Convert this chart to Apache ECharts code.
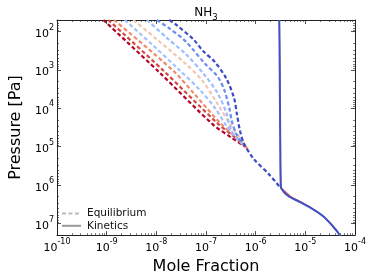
<!DOCTYPE html>
<html><head><meta charset="utf-8">
<script src="https://cdn.jsdelivr.net/npm/echarts@6/dist/echarts.min.js"></script>
<style>html,body{margin:0;padding:0;background:#fff}#c{width:374px;height:280px}</style>
</head><body><div id="c"></div>
<script>
// ---- data: [mole fraction, pressure (Pa)] ----
const eqA = [[8.6e-10,50],[1.11e-8,1105],[1.37e-7,2.61e4],[3.36e-7,5.94e4],[6.29e-7,1.01e5]];
const eqB = [[1.08e-9,50],[1.39e-8,1043],[1.71e-7,2.46e4],[4.02e-7,5.94e4],[6.58e-7,1.07e5]];
const eqC = [[1.41e-9,50],[2.18e-8,1043],[6.11e-8,4510],[1.87e-7,2.32e4],[4.6e-7,6.67e4],[6.88e-7,1.13e5]];
const eqD = [[2.31e-9,50],[8.1e-9,214],[2.72e-8,927],[7.64e-8,3365],[1.5e-7,9660],[2.56e-7,2.77e4],[4.81e-7,7.5e4]];
const eqE = [[3.46e-9,50],[1.02e-8,160],[3.9e-8,692],[8.36e-8,1870],[1.71e-7,7640],[3.36e-7,3.12e4],[5.75e-7,7.96e4]];
const eqH = [[6.49e-9,50],[1.59e-8,142],[3.9e-8,385],[9.57e-8,1397],[1.71e-7,4010],[2.56e-7,1.29e4],[3.21e-7,3.72e4],[5.26e-7,8.44e4]];
const eqG = [[1.02e-8,50],[1.74e-8,79],[3.9e-8,180],[9.57e-8,692],[1.71e-7,1480],[2.34e-7,3365],[2.94e-7,9660],[3.36e-7,2.32e4],[4.21e-7,4.98e4],[5.75e-7,8.95e4]];
const eqF = [[1.82e-8,50],[2.49e-8,66],[5.58e-8,160],[8.75e-8,323],[1.5e-7,615],[2.56e-7,1663],[3.67e-7,5375],[4.21e-7,1.46e4],[4.81e-7,3.72e4],[5.75e-7,7.96e4],[9.02e-7,2.03e5],[1.93e-6,5.5e5],[3.16e-6,1.18e6]];
const kinRed = [[3.0e-6,50],[3.08e-6,1e3],[3.15e-6,5.6e4],[3.26e-6,1.1e6],[3.95e-6,1.49e6],[5.15e-6,2.0e6],[7.9e-6,2.67e6],[1.38e-5,4.03e6],[2.3e-5,6.44e6],[3.41e-5,1.09e7],[4.89e-5,1.96e7],[5.3e-5,2.6e7]];
const kinBlue = [[2.99e-6,50],[3.05e-6,1e3],[3.12e-6,5.6e4],[3.21e-6,1.13e6],[3.65e-6,1.49e6],[4.74e-6,2.0e6],[7.42e-6,2.67e6],[1.33e-5,4.03e6],[2.28e-5,6.44e6],[3.41e-5,1.09e7],[4.89e-5,1.96e7],[5.3e-5,2.6e7]];

const eqSeriesData = [eqA, eqB, eqC, eqE, eqD, eqH, eqG, eqF];
const eqColors = ['#b40426','#d24b40','#f08b6e','#f3c7b1','#a2c1ff','#9dbdff','#6b8df0','#3b4cc0'];
const eqNames = ['eqA','eqB','eqC','eqE','eqD','eqH','eqG','eqF'];
const kinColors = ['#d0473d','#3f51c4'];
const legendNames = ['Equilibrium','Kinetics'];
const titleMain = 'NH', titleSub = '3';
const xName = 'Mole Fraction', yName = 'Pressure [Pa]';

const FF = 'DejaVu Sans';
function powLabel(v){
  const e = Math.log10(v), n = Math.round(e);
  if (Math.abs(e - n) > 1e-6) return '';
  return '{b|10}{s|' + n + '}';
}
const labRich = {
  b:{fontSize:11, fontFamily:FF, color:'#000', lineHeight:16, verticalAlign:'bottom'},
  s:{fontSize:8, fontFamily:FF, color:'#000', lineHeight:8, verticalAlign:'top'}
};
const axisCommon = {
  axisLine:{show:true, lineStyle:{color:'#222', width:1}},
  axisTick:{show:true, inside:true, length:4, lineStyle:{color:'#222', width:0.8}},
  minorTick:{show:true, splitNumber:9, length:2, lineStyle:{color:'#222', width:0.6}},
  splitLine:{show:false}, minorSplitLine:{show:false}
};
const series = [];
eqSeriesData.forEach((d,i)=>{
  series.push({type:'line', name:eqNames[i], data:d, symbol:'none', smooth:0.3,
    lineStyle:{color:eqColors[i], width:2.2, type:[4,2.5]}, z:2+i, silent:true});
});
series.push({type:'line', name:'kinRed', data:kinRed, symbol:'none', smooth:0.3,
  lineStyle:{color:kinColors[0], width:1.2}, z:20});
series.push({type:'line', name:'kinBlue', data:kinBlue, symbol:'none', smooth:0.3,
  lineStyle:{color:kinColors[1], width:2}, z:21});
series.push({type:'line', name:legendNames[0], data:[], symbol:'none', itemStyle:{color:'#bbb'}, lineStyle:{color:'#bbb', width:1.5, type:[4,2.5]}});
series.push({type:'line', name:legendNames[1], data:[], symbol:'none', itemStyle:{color:'#999'}, lineStyle:{color:'#999', width:2}});

const chart = echarts.init(document.getElementById('c'), null, {renderer:'canvas'});
chart.setOption({
  animation:false,
  backgroundColor:'#fff',
  title:{text:'{a|'+titleMain+'}{b|'+titleSub+'}', left:201, top:-2, textAlign:'center',
    textStyle:{fontWeight:'normal', rich:{a:{fontSize:12, fontFamily:FF, fontWeight:'normal', color:'#000', lineHeight:16, verticalAlign:'bottom'},
      b:{fontSize:8.5, fontFamily:FF, fontWeight:'normal', color:'#000', lineHeight:16, verticalAlign:'bottom', padding:[0,0,-3,0]}}}},
  grid:{left:47, right:19, top:20, bottom:40},
  legend:{data:legendNames, orient:'vertical', left:56, top:203, itemWidth:19, itemHeight:14, itemGap:1,
    itemStyle:{opacity:0},
    selectedMode:false, textStyle:{fontSize:10.5, fontFamily:FF, color:'#111', padding:[0,0,0,1]}},
  xAxis:[
    Object.assign({type:'log', logBase:10, min:1e-10, max:1e-4, position:'bottom',
      name:xName, nameLocation:'middle', nameGap:17,
      nameTextStyle:{fontSize:16, fontFamily:FF, color:'#000'},
      axisLabel:{formatter:powLabel, rich:labRich, margin:3}}, axisCommon),
    Object.assign({type:'log', logBase:10, min:1e-10, max:1e-4, position:'top', axisLabel:{show:false}}, axisCommon)
  ],
  yAxis:[
    Object.assign({type:'log', logBase:10, min:50, max:2e7, inverse:true, position:'left',
      name:yName, nameLocation:'middle', nameGap:24,
      nameTextStyle:{fontSize:16, fontFamily:FF, color:'#000'},
      axisLabel:{formatter:powLabel, rich:labRich, margin:3, showMinLabel:false, showMaxLabel:false}}, axisCommon),
    Object.assign({type:'log', logBase:10, min:50, max:2e7, inverse:true, position:'right', axisLabel:{show:false}}, axisCommon)
  ],
  series:series
});
</script></body></html>
